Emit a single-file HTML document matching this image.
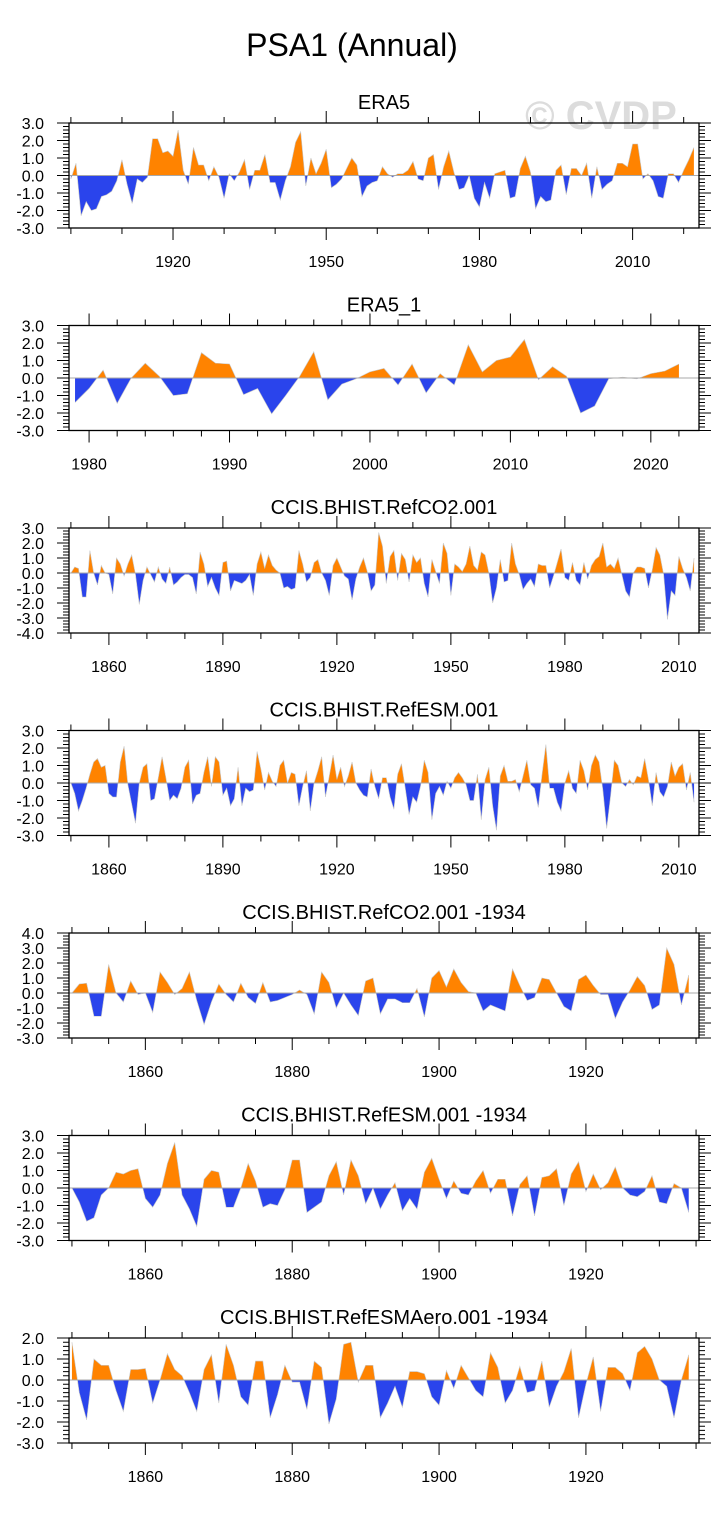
<!DOCTYPE html>
<html><head><meta charset="utf-8">
<style>
html,body{margin:0;padding:0;background:#fff;}
body{width:728px;height:1510px;overflow:hidden;font-family:"Liberation Sans",Arial,sans-serif;}
svg text{font-family:"Liberation Sans",Arial,sans-serif;}
</style></head>
<body>
<svg id="fig" xmlns="http://www.w3.org/2000/svg" width="728" height="1510" viewBox="0 0 728 1510">
<text x="352" y="56" font-size="32" text-anchor="middle" fill="#000">PSA1 (Annual)</text>
<text x="601" y="129" font-size="40" font-weight="bold" text-anchor="middle" fill="#dcdcdc">© CVDP</text>
</svg>
<script>
// ---- data ----
const era5Start = 1900;
const era5Values = [-0.2,0.7,-2.3,-1.5,-2.0,-1.9,-1.2,-1.1,-0.9,-0.3,0.9,-0.5,-1.6,-0.2,-0.4,-0.1,2.1,2.1,1.3,1.4,1.1,2.6,0.3,-0.5,1.6,0.6,0.6,-0.3,0.5,-0.1,-1.3,0.1,-0.3,0.2,0.9,-0.8,0.3,0.3,1.2,-0.4,-0.4,-1.4,-0.3,0.5,1.9,2.5,-0.6,1.0,0.1,0.7,1.5,-0.7,-0.5,-0.2,0.4,1.0,0.6,-1.2,-0.6,-0.4,-0.3,0.5,0.1,-0.1,0.1,0.1,0.3,0.8,-0.2,-0.3,1.0,1.2,-0.8,0.5,1.4,0.2,-0.8,-0.7,0.0,-1.3,-1.8,-0.4,-1.3,0.1,0.2,0.3,-1.3,-1.2,0.4,1.1,0.2,-1.9,-1.2,-1.5,-1.4,0.3,0.6,-1.1,0.4,0.4,0.0,0.7,-1.3,0.5,-0.8,-0.5,-0.3,0.7,0.7,0.5,1.8,1.8,-0.2,0.1,-0.3,-1.2,-1.3,0.1,0.1,-0.4,0.3,0.9,1.6];
const era51Start = 1979;
const era51Values = [-1.4,-0.6,0.45,-1.45,0.0,0.85,0.1,-1.0,-0.9,1.45,0.85,0.8,-0.95,-0.6,-2.05,-1.0,0.1,1.5,-1.25,-0.35,-0.05,0.35,0.55,-0.4,0.8,-0.85,0.25,-0.4,1.9,0.35,1.0,1.2,2.2,-0.1,0.65,0.1,-2.0,-1.6,-0.05,0.05,-0.05,0.25,0.4,0.8];
const co2Start = 1850;
const co2Values = [0.0,0.4,0.3,-1.6,-1.6,1.5,0.0,-0.8,0.5,0.0,-0.1,-1.4,1.0,0.6,-0.2,0.6,1.2,-0.1,-2.1,-0.5,0.4,-0.1,-0.6,0.4,-0.4,-0.7,0.4,-0.8,-0.6,-0.3,-0.1,-0.1,-0.3,-1.4,1.4,0.6,-0.9,-0.3,-1.0,-1.5,0.7,0.8,-1.2,-0.5,-0.6,-0.7,-0.5,-0.1,-1.5,0.6,1.4,0.3,1.2,0.5,0.2,0.0,-1.0,-0.9,-1.1,-1.0,1.5,0.6,-0.6,-0.3,0.7,0.9,0.0,-0.5,-1.5,0.5,1.0,0.4,-0.2,-0.4,-1.8,-0.4,0.4,1.0,0.1,-1.2,-0.8,2.7,1.8,-0.7,1.1,1.5,-0.5,1.3,0.9,-0.6,1.2,0.7,1.0,-0.7,-1.6,0.9,0.1,-0.7,2.0,1.3,-1.5,0.6,0.4,0.1,0.6,1.8,0.5,0.2,1.4,1.2,0.0,-2.0,-1.0,0.9,-0.6,-0.5,2.0,0.6,-0.1,-1.1,-0.7,-0.4,-0.9,0.6,0.5,0.5,-1.0,-0.2,0.7,1.6,-0.3,-0.5,0.7,-0.5,-0.8,0.7,-0.4,0.5,0.9,1.1,2.0,0.4,0.6,0.3,1.0,-0.1,-1.2,-1.6,0.0,0.4,0.4,0.3,-1.0,0.2,1.7,1.2,-0.1,-3.1,-1.2,-1.5,1.1,0.3,-0.3,-1.2,1.0];
const esmStart = 1850;
const esmValues = [0.0,-0.6,-1.6,-1.0,-0.3,0.5,1.2,1.4,0.9,1.0,-0.6,-0.8,-0.8,1.2,2.1,-0.1,-1.2,-2.3,0.0,0.9,1.1,-1.0,-0.9,0.3,1.5,0.3,-1.0,-0.7,-0.9,-0.3,0.9,1.3,-1.2,-0.7,-0.6,0.6,1.5,-0.2,1.5,1.2,-0.7,-0.3,-1.3,-0.9,0.9,-1.3,-0.3,-0.5,-0.4,1.8,0.8,-0.4,0.6,0.1,-0.2,1.0,1.3,0.0,0.6,0.5,-1.3,-0.2,0.7,-1.6,0.0,0.7,1.5,-0.8,0.4,1.6,0.2,0.9,-0.2,0.4,1.2,0.0,-0.4,-0.7,-0.8,0.8,-0.2,-0.9,0.3,0.3,-0.8,-1.5,0.5,1.1,-0.3,-1.8,-0.8,-1.1,-0.2,1.3,0.6,-2.1,-0.6,-0.2,-0.7,0.1,-0.3,0.3,0.6,0.3,-0.1,-1.0,-1.0,0.5,-2.1,0.2,0.9,-1.3,-2.7,0.4,1.0,0.1,0.1,0.2,-0.5,0.4,1.3,-0.1,-0.3,-1.4,0.5,2.2,-0.3,-0.3,-1.1,-1.6,0.0,0.7,-0.3,-0.6,1.3,0.7,-0.4,1.0,1.6,1.2,-0.4,-2.6,-0.8,1.3,1.0,0.0,-0.2,0.2,-0.1,0.4,0.3,1.4,0.2,-1.3,0.6,-0.5,-0.8,-0.2,1.2,0.4,0.9,1.1,-0.4,0.6,-1.1];
const co2ShortStart = 1850;
const co2ShortValues = [0.0,0.6,0.65,-1.55,-1.55,1.9,0.0,-0.6,0.8,-0.1,0.0,-1.3,1.4,0.7,-0.1,0.3,1.4,-0.5,-2.1,-0.6,0.6,-0.1,-0.6,0.65,-0.3,-0.7,0.7,-0.6,-0.5,-0.3,-0.1,0.2,-0.1,-1.4,1.4,0.7,-1.0,0.0,-0.8,-1.5,0.8,1.0,-1.4,-0.4,-0.4,-0.65,-0.65,0.3,-1.6,1.0,1.5,0.4,1.6,0.7,0.1,0.0,-1.2,-0.8,-1.0,-1.2,1.6,0.5,-0.5,-0.3,1.0,0.9,0.0,-0.9,-1.2,0.9,1.2,0.5,-0.1,-0.1,-1.7,-0.6,0.2,1.1,0.5,-1.1,-0.8,3.0,1.9,-0.8,1.2];
const esmShortStart = 1850;
const esmShortValues = [0.0,-0.8,-1.9,-1.7,-0.4,0.0,0.9,0.8,1.0,1.1,-0.6,-1.1,-0.4,1.4,2.6,-0.4,-1.2,-2.2,0.5,1.0,0.9,-1.1,-1.1,0.0,1.4,0.4,-1.1,-0.9,-1.0,-0.1,1.6,1.6,-1.4,-1.1,-0.8,0.7,1.5,-0.4,1.6,0.7,-0.9,0.0,-1.2,-0.4,0.3,-1.3,-0.6,-1.2,0.9,1.7,0.5,-0.6,0.4,-0.3,-0.4,0.4,1.0,-0.3,0.5,0.5,-1.6,0.2,0.7,-1.6,0.6,0.7,1.1,-1.0,0.8,1.5,-0.2,0.8,-0.1,0.3,1.2,0.0,-0.4,-0.5,-0.2,0.7,-0.8,-0.9,0.25,0.0,-1.4];
const aeroStart = 1850;
const aeroValues = [1.8,-0.6,-1.9,1.0,0.7,0.7,-0.5,-1.5,0.5,0.5,0.55,-1.1,0.0,1.25,0.5,0.2,-0.6,-1.5,0.5,1.2,-1.1,1.7,0.7,-0.8,-1.2,0.9,0.9,-1.8,-0.7,0.7,-0.1,-0.1,-1.4,0.9,0.6,-2.1,-0.9,1.7,1.8,-0.1,0.7,0.7,-1.8,-1.1,-0.3,-1.3,0.4,0.4,0.3,-0.8,-1.2,0.45,-0.4,0.7,0.1,-0.5,-0.8,1.3,0.6,-1.1,-0.5,0.65,-0.6,-0.5,0.9,-1.3,-0.3,0.4,1.5,-1.8,-0.2,1.1,-1.5,0.6,0.6,0.3,-0.5,1.3,1.6,1.0,0.0,-0.3,-1.8,0.0,1.2];
const panelTitles = ["ERA5","ERA5_1","CCIS.BHIST.RefCO2.001","CCIS.BHIST.RefESM.001","CCIS.BHIST.RefCO2.001 -1934","CCIS.BHIST.RefESM.001 -1934","CCIS.BHIST.RefESMAero.001 -1934"];
const yMaxs = [3,3,3,3,4,3,2];
const yMins = [-3,-3,-4,-3,-3,-3,-3];
const xMins = [1899.63,1978.57,1849.5,1849.5,1849.6,1849.6,1849.6];
const xMaxs = [2023.0,2023.43,2015.3,2015.3,1935.4,1935.4,1935.4];
const xLabelSets = [[1920,1950,1980,2010],[1980,1990,2000,2010,2020],[1860,1890,1920,1950,1980,2010],[1860,1890,1920,1950,1980,2010],[1860,1880,1900,1920],[1860,1880,1900,1920],[1860,1880,1900,1920]];
const xMinorSteps = [10,2,10,10,5,5,5];
const seriesStarts = [era5Start,era51Start,co2Start,esmStart,co2ShortStart,esmShortStart,aeroStart];
const seriesValues = [era5Values,era51Values,co2Values,esmValues,co2ShortValues,esmShortValues,aeroValues];
const seriesNames = ["era5","era5-1","refco2","refesm","refco2-1934","refesm-1934","refesmaero-1934"];

// ---- drawing ----
const NS = "http://www.w3.org/2000/svg";
const svg = document.getElementById("fig");
const BOX_L = 69, BOX_R = 699, BOX_H = 105, TOP0 = 123, GAP = 202.5;
const ORANGE = "#ff8300", BLUE = "#2a44ec";
function mk(tag, parent){ const e = document.createElementNS(NS, tag); parent.appendChild(e); return e; }

for (let p = 0; p < 7; p++) {
  const top = TOP0 + GAP*p, bot = top + BOX_H;
  const x0 = xMins[p], x1 = xMaxs[p], y0 = yMins[p], y1 = yMaxs[p];
  const xs = v => BOX_L + (v - x0) / (x1 - x0) * (BOX_R - BOX_L);
  const ys = v => bot - (v - y0) / (y1 - y0) * BOX_H;
  const g = mk("g", svg);
  
  

  const t = mk("text", g);
  
  
  t.setAttribute("x", (BOX_L + BOX_R)/2); t.setAttribute("y", top - 14);
  t.setAttribute("font-size", "20"); t.setAttribute("text-anchor", "middle");
  t.textContent = panelTitles[p];

  const vals = seriesValues[p], st = seriesStarts[p];
  const zy = ys(0);
  let pts = xs(st).toFixed(2) + "," + zy.toFixed(2);
  let line = "";
  vals.forEach((v, i) => {
    const s = xs(st + i).toFixed(2) + "," + ys(v).toFixed(2);
    pts += " " + s; line += (i ? " " : "") + s;
  });
  pts += " " + xs(st + vals.length - 1).toFixed(2) + "," + zy.toFixed(2);
  const cid = "clip" + p;
  const defs = mk("defs", g);
  const cpA = mk("clipPath", defs); cpA.setAttribute("id", cid + "a");
  const ra = mk("rect", cpA); ra.setAttribute("x", BOX_L); ra.setAttribute("y", top); ra.setAttribute("width", BOX_R-BOX_L); ra.setAttribute("height", zy - top);
  const cpB = mk("clipPath", defs); cpB.setAttribute("id", cid + "b");
  const rb = mk("rect", cpB); rb.setAttribute("x", BOX_L); rb.setAttribute("y", zy); rb.setAttribute("width", BOX_R-BOX_L); rb.setAttribute("height", bot - zy);
  const pa = mk("polygon", g);
  
  
  pa.setAttribute("points", pts); pa.setAttribute("fill", ORANGE); pa.setAttribute("clip-path", "url(#" + cid + "a)");
  const pb = mk("polygon", g);
  
  
  pb.setAttribute("points", pts); pb.setAttribute("fill", BLUE); pb.setAttribute("clip-path", "url(#" + cid + "b)");
  const pl = mk("polyline", g);
  
  
  pl.setAttribute("points", line); pl.setAttribute("fill", "none"); pl.setAttribute("stroke", "#c8c8c8"); pl.setAttribute("stroke-width", "0.6");
  const zl = mk("line", g);
  
  
  zl.setAttribute("x1", BOX_L); zl.setAttribute("x2", BOX_R); zl.setAttribute("y1", zy); zl.setAttribute("y2", zy);
  zl.setAttribute("stroke", "#a8a8a8"); zl.setAttribute("stroke-width", "1");

  let tp = "";
  const minorStart = Math.ceil(x0 / xMinorSteps[p]) * xMinorSteps[p];
  const majors = xLabelSets[p];
  const majStep = majors[1] - majors[0];
  for (let yr = minorStart; yr <= x1; yr += xMinorSteps[p]) {
    const X = xs(yr).toFixed(2);
    const isMaj = ((yr - majors[0]) % majStep === 0);
    const L = isMaj ? 12 : 6;
    tp += `M${X},${bot}v${L}M${X},${top}v${-L}`;
  }
  for (let k = Math.round(y0*5); k <= Math.round(y1*5); k++) {
    const Y = ys(k/5).toFixed(2);
    const L = (k % 5 === 0) ? 12 : 6;
    tp += `M${BOX_L},${Y}h${-L}M${BOX_R},${Y}h${L}`;
  }
  const tk = mk("path", g);
  
  
  tk.setAttribute("d", tp); tk.setAttribute("stroke", "#000"); tk.setAttribute("stroke-width", "1"); tk.setAttribute("fill", "none");

  const box = mk("rect", g);
  
  
  box.setAttribute("x", BOX_L); box.setAttribute("y", top); box.setAttribute("width", BOX_R-BOX_L); box.setAttribute("height", BOX_H);
  box.setAttribute("fill", "none"); box.setAttribute("stroke", "#000"); box.setAttribute("stroke-width", "1.3");

  for (let v = y0; v <= y1; v++) {
    const yl = mk("text", g);
    
    
    yl.setAttribute("x", 44); yl.setAttribute("y", ys(v) + 6);
    yl.setAttribute("font-size", "16"); yl.setAttribute("text-anchor", "end");
    yl.textContent = v.toFixed(1);
  }
  majors.forEach(yr => {
    const xl = mk("text", g);
    
    
    xl.setAttribute("x", xs(yr)); xl.setAttribute("y", bot + 39);
    xl.setAttribute("font-size", "16"); xl.setAttribute("text-anchor", "middle");
    xl.textContent = yr;
  });
}
</script>
</body></html>
